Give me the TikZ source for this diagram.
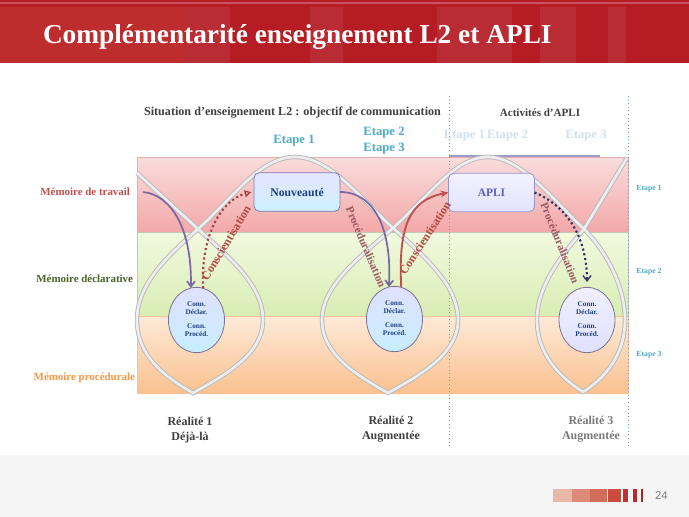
\documentclass[tikz,border=0pt]{standalone}
\usepackage{fontspec}
\setmainfont{Liberation Serif}
\setsansfont{Liberation Sans}
\usetikzlibrary{arrows.meta,shapes.geometric}
\definecolor{titlered}{HTML}{B51C24}
\definecolor{titlelight}{HTML}{C33532}
\definecolor{pinkT}{HTML}{FBDCDC}
\definecolor{pinkB}{HTML}{F3A8A8}
\definecolor{greenT}{HTML}{F2F9E0}
\definecolor{greenB}{HTML}{D8EDB3}
\definecolor{orangeT}{HTML}{FDEAD8}
\definecolor{orangeB}{HTML}{FAC18F}
\definecolor{tealx}{HTML}{4BACC6}
\definecolor{fadedblue}{HTML}{D3E1EE}
\definecolor{memred}{HTML}{C0504D}
\definecolor{memgreen}{HTML}{4F6228}
\definecolor{memorange}{HTML}{F79646}
\definecolor{darktext}{HTML}{404040}
\definecolor{greytext}{HTML}{7A7A7A}
\definecolor{navytext}{HTML}{1F3F7F}
\definecolor{purplearrow}{HTML}{7A68A6}
\definecolor{redarrow}{HTML}{C0504D}
\definecolor{brownlabel}{HTML}{B04A40}
\definecolor{mauvelabel}{HTML}{9A5A62}
\definecolor{vline}{HTML}{7F98C0}
\begin{document}
\begin{tikzpicture}[x=0.75pt,y=-0.75pt,
  every node/.style={inner sep=0pt, outer sep=0pt},
  bandbox/.style={draw=#1, line width=0.5pt},
  loopline/.style={draw=gray!55, double=gray!14, double distance=2pt, line width=0.7pt},
  memlabel/.style={font=\fontsize{8.2}{9.5}\selectfont\bfseries, anchor=east},
  headtext/.style={font=\fontsize{8.3}{10}\selectfont\bfseries, text=darktext},
  etapetop/.style={font=\fontsize{9.5}{11.5}\selectfont\bfseries, text=tealx, align=center},
  etapefaded/.style={font=\fontsize{9.5}{11.5}\selectfont\bfseries, text=fadedblue},
  etaperight/.style={font=\fontsize{5.8}{7}\selectfont\bfseries, text=tealx},
  realite/.style={font=\fontsize{9}{11.5}\selectfont\bfseries, align=center},
  connell/.style={ellipse, minimum width=42pt, minimum height=49pt, line width=0.6pt},
  conntext/.style={font=\fontsize{5.4}{6.5}\selectfont\bfseries, text=navytext, align=center},
  boxnode/.style={rounded corners=4pt, minimum width=64.5pt, minimum height=29pt, line width=0.6pt},
  arclabel/.style={font=\fontsize{9}{11}\selectfont\bfseries},
  vdots/.style={draw=vline, dotted, line width=0.7pt}
]
\useasboundingbox (0,0) rectangle (689,517);
% backgrounds
\fill[white] (0,0) rectangle (689,517);
\fill[gray!8] (0,455) rectangle (689,517);
% title band
\fill[titlered] (0,0) rectangle (689,63);
\fill[titlelight, opacity=0.7] (0,7) rectangle (185,63);
\foreach \a/\b in {185/230,310/343,437/512,540/576,608/626}
  \fill[white, opacity=0.07] (\a,7) rectangle (\b,63);
\draw[white, opacity=0.25, line width=0.8pt] (0,3) -- (689,3);
\node[font=\fontsize{20.5}{24}\selectfont\bfseries, text=white, anchor=base west] (title) at (43,44) {Complémentarité enseignement L2 et APLI};
% bands
\shade[top color=pinkT, bottom color=pinkB] (137,157) rectangle (628,232);
\draw[bandbox=memred!45] (137,157) rectangle (628,232);
\shade[top color=greenT, bottom color=greenB] (137,232) rectangle (628,316);
\draw[bandbox=memgreen!35] (137,232) rectangle (628,316);
\shade[top color=orangeT, bottom color=orangeB] (137,316) rectangle (628,393);
\draw[bandbox=memorange!60] (137,316) rectangle (628,393);
% top separator line
\draw[color=gray!70!blue!60, line width=1.4pt] (449,156) -- (600,156);
% dotted verticals
\draw[vdots] (449,96) -- (449,446);
\draw[vdots] (628,96) -- (628,446);
% loops
\draw[loopline] (137,173) -- (198,229)
 .. controls (230,258) and (263,285) .. (263,320)
 .. controls (263,355) and (223,376) .. (193,393)
 .. controls (163,376) and (137,355) .. (137,320)
 .. controls (137,285) and (165,258) .. (198,229)
 .. controls (235,196) and (260,157) .. (295,157)
 .. controls (330,157) and (360,198) .. (393,228)
 .. controls (425,257) and (458,285) .. (458,320)
 .. controls (458,355) and (418,376) .. (388,393)
 .. controls (358,376) and (322,355) .. (322,320)
 .. controls (322,285) and (360,257) .. (393,228)
 .. controls (430,195) and (455,157) .. (488,157)
 .. controls (521,157) and (553,200) .. (584,229)
 .. controls (605,250) and (625,285) .. (625,320)
 .. controls (625,355) and (605,378) .. (583,392)
 .. controls (561,378) and (537,355) .. (537,320)
 .. controls (537,285) and (562,255) .. (584,229)
 -- (627,158);
% header texts
\node[headtext, font=\fontsize{9.1}{10}\selectfont\bfseries] (situation) at (292.5,113) {Situation d’enseignement L2 : objectif de communication};
\node[headtext] (activites) at (540,113) {Activités d’APLI};
\node[etapetop] (et1) at (294,141) {Etape 1};
\node[etapetop] (et23) at (384,140.5) {Etape 2\\Etape 3};
\node[etapefaded] (etf12) at (486,136) {Etape 1\,Etape 2};
\node[etapefaded] (etf3) at (586,136) {Etape 3};
\node[etaperight] (er1) at (649,189) {Etape 1};
\node[etaperight] (er2) at (649,272) {Etape 2};
\node[etaperight] (er3) at (649,355) {Etape 3};
% memory labels
\node[memlabel, text=memred] (mt) at (130,192) {Mémoire de travail};
\node[memlabel, text=memgreen] (md) at (133,279) {Mémoire déclarative};
\node[memlabel, text=memorange] (mp) at (135,378) {Mémoire procédurale};
% boxes
\node[boxnode, draw=blue!30!gray!80, top color=blue!10, bottom color=blue!28!cyan!20, font=\fontsize{8.8}{10}\selectfont\bfseries, text=navytext] (nv) at (297,192) {Nouveauté};
\node[boxnode, draw=gray!60!blue!60, top color=blue!5, bottom color=blue!11, font=\fontsize{8.6}{10}\selectfont\bfseries, text=blue!40!gray!90] (apli) at (491.5,192.5) {APLI};
% ellipses
\node[connell, draw=purplearrow!60!gray, top color=blue!12, bottom color=blue!30!cyan!22] (e1) at (196.5,320) {};
\node[connell, draw=purplearrow!60!gray, top color=blue!12, bottom color=blue!30!cyan!22] (e2) at (394.5,319) {};
\node[connell, draw=purplearrow!50!gray, top color=blue!6, bottom color=blue!12] (e3) at (587,320) {};
\foreach \e in {e1,e2,e3}{
  \node[conntext] (\e a) at ([yshift=9pt]\e.center) {Conn.\\Déclar.};
  \node[conntext] (\e b) at ([yshift=-7.5pt]\e.center) {Conn.\\Procéd.};
}
% arrows
\coordinate (mtstart) at (143,192);
\draw[purplearrow, line width=1.3pt, -{Straight Barb[length=4pt,width=6pt]}] (mtstart) .. controls (172,195) and (192,230) .. (e1.100);
\draw[redarrow!85!black, line width=1.6pt, dotted, -{Triangle[open,length=5pt,width=5pt,line width=1pt]}] (e1.78) .. controls (200,235) and (222,200) .. ([xshift=-2pt]nv.west);
\draw[purplearrow, line width=1.3pt, -{Straight Barb[length=4pt,width=6pt]}] (nv.east) .. controls (375,192) and (392,230) .. (e2.100);
\draw[redarrow, line width=1.4pt, -{Stealth[length=6pt,width=5pt]}] (e2.78) .. controls (398,225) and (410,200) .. (apli.west);
\draw[darktext!80!blue, line width=1.6pt, dotted, -{Straight Barb[length=4pt,width=6pt,line width=1pt]}] (apli.east) .. controls (565,205) and (587,235) .. ([yshift=4pt]e3.north);
% arrow labels
\node[arclabel, text=brownlabel, rotate=59] (lab1) at (226,243) {Conscientisation};
\node[arclabel, text=mauvelabel, rotate=-67, font=\fontsize{8.5}{10}\selectfont\bfseries] (lab2) at (366,247) {Procéduralisation};
\node[arclabel, text=brownlabel, rotate=57] (lab3) at (425,238) {Conscientisation};
\node[arclabel, text=mauvelabel, rotate=-68, font=\fontsize{8.5}{10}\selectfont\bfseries] (lab4) at (560,243) {Procéduralisation};
% bottom labels
\node[realite, text=darktext] (r1) at (190,430) {Réalité 1\\Déjà-là};
\node[realite, text=darktext] (r2) at (391,429) {Réalité 2\\Augmentée};
\node[realite, text=greytext] (r3) at (591,429) {Réalité 3\\Augmentée};
% footer
\foreach \a/\b/\c in {553/572/EAB8A9,572/590/DC8B78,590/607/D36D5A,608/621/C94C3E,623/628/C03232,633/637/B82A2A,641/643/B02222}{
  \definecolor{footc}{HTML}{\c}
  \fill[footc] (\a,489) rectangle (\b,502);
}
\node[font=\sffamily\fontsize{8.5}{10}\selectfont, text=gray, anchor=west] (pagenum) at (655,495.5) {24};
\end{tikzpicture}
\end{document}
